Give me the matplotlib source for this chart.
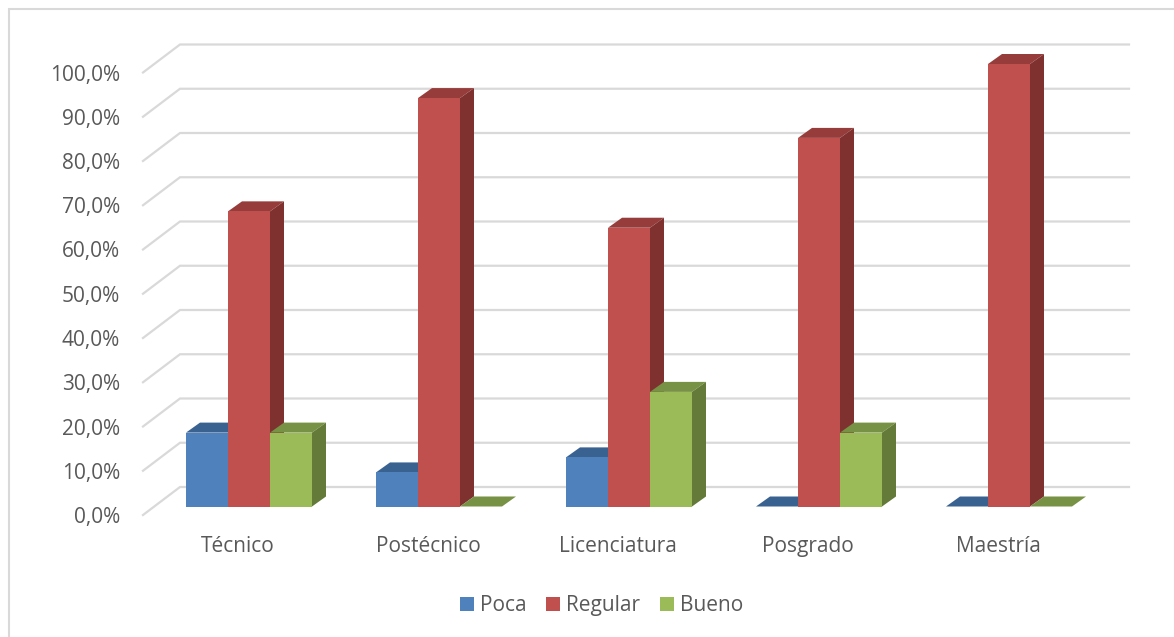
import matplotlib
matplotlib.use("Agg")
import matplotlib.pyplot as plt
from matplotlib.patches import Polygon, Rectangle

plt.rcParams['font.family'] = ['Open Sans', 'DejaVu Sans']

# --- Data ---
categories = ["Técnico", "Postécnico", "Licenciatura", "Posgrado", "Maestría"]
poca = [16.7, 7.7, 11.1, 0.0, 0.0]
regular = [66.7, 92.3, 63.0, 83.3, 100.0]
bueno = [16.7, 0.0, 25.9, 16.7, 0.0]
y_ticks = [0, 10, 20, 30, 40, 50, 60, 70, 80, 90, 100]

# --- Configuration ---
W, H = 1174, 637
X0_PX, GROUP_PX = 249.0, 190.0      # centre of first group, group spacing
Y0_PX, PCT_PX = 506.5, 4.425        # baseline row, pixels per percent
BAR_W = 42 / GROUP_PX
FONT_SIZE = 15
TEXT_COL = '#595959'
GRID_COL = '#d9d9d9'

def px_x(dx):
    return dx / GROUP_PX

def px_y(dy):
    return dy / PCT_PX

# fake 3D offsets, in data units
BAR_DX, BAR_DY = px_x(14), px_y(10)
WALL_FRONT_X, WALL_BACK_X = px_x(143 - X0_PX), px_x(180 - X0_PX)
WALL_RIGHT_X = px_x(1129 - X0_PX)
FRONT_DY, BACK_DY = px_y(-8.5), px_y(19.5)

series = [
    ("Poca", poca, -1, '#4f81bd', '#3a6291', '#2f5178'),
    ("Regular", regular, 0, '#c0504d', '#963d3b', '#7f3130'),
    ("Bueno", bueno, 1, '#9bbb59', '#779244', '#647a38'),
]
# swatch left edge and text left edge of each legend entry
legend_x = [(460, 480), (546, 566), (660, 680)]

def draw_bar(ax, x, value, face, top, side, zorder):
    left, right = x - BAR_W / 2, x + BAR_W / 2
    # top and side faces sit behind the front face
    ax.add_patch(Polygon(
        [(left, value), (right, value), (right + BAR_DX, value + BAR_DY), (left + BAR_DX, value + BAR_DY)],
        facecolor=top, edgecolor='none', zorder=zorder))
    if value > 0:
        ax.add_patch(Polygon(
            [(right, 0), (right + BAR_DX, BAR_DY), (right + BAR_DX, value + BAR_DY), (right, value)],
            facecolor=side, edgecolor='none', zorder=zorder))
        ax.bar(x, value, width=BAR_W, color=face, edgecolor='none', zorder=zorder + 0.1)

def main():
    fig = plt.figure(figsize=(W / 100, H / 100), dpi=100)
    ax = fig.add_axes([0, 0, 1, 1])
    # the axes fills the figure, limits set so group index and percent land on their rows
    ax.set_xlim(-X0_PX / GROUP_PX, (W - X0_PX) / GROUP_PX)
    ax.set_ylim((Y0_PX - H) / PCT_PX, Y0_PX / PCT_PX)
    ax.axis('off')

    # chart frame, only the top and left edges fall inside the figure
    fig.add_artist(Rectangle((8.5 / W, -0.01), 1.02, 1.01 - 8.5 / H,
                             transform=fig.transFigure, fill=False, edgecolor=GRID_COL, linewidth=1.5))

    # back wall gridlines and the slanted side wall lines
    for t in y_ticks:
        ax.plot([WALL_FRONT_X, WALL_BACK_X, WALL_RIGHT_X],
                [t + FRONT_DY, t + BACK_DY, t + BACK_DY],
                color=GRID_COL, linewidth=1.6, solid_joinstyle='miter', zorder=1)
        ax.text(WALL_FRONT_X - px_x(23), t + FRONT_DY + px_y(-8), f"{t:.1f}%".replace('.', ','),
                ha='right', va='baseline', fontsize=FONT_SIZE, color=TEXT_COL)

    for i, name in enumerate(categories):
        for label, values, offset, face, top, side in series:
            # left to right, each bar covers the side face of the one before it
            draw_bar(ax, i + offset * BAR_W, values[i], face, top, side, 3 + offset)
        ax.text(i - px_x(11), px_y(-45.5), name, ha='center', va='baseline', fontsize=FONT_SIZE, color=TEXT_COL)

    # legend, placed by hand so all three labels share one baseline
    for (label, _, _, face, _, _), (swatch_x, text_x) in zip(series, legend_x):
        fig.add_artist(Rectangle((swatch_x / W, 1 - 611 / H), 14 / W, 14 / H,
                                 transform=fig.transFigure, facecolor=face, edgecolor='none'))
        fig.text(text_x / W, 1 - 611 / H, label, ha='left', va='baseline',
                 fontsize=FONT_SIZE, color=TEXT_COL)

    fig.savefig("out.png", dpi=100)

if __name__ == "__main__":
    main()
